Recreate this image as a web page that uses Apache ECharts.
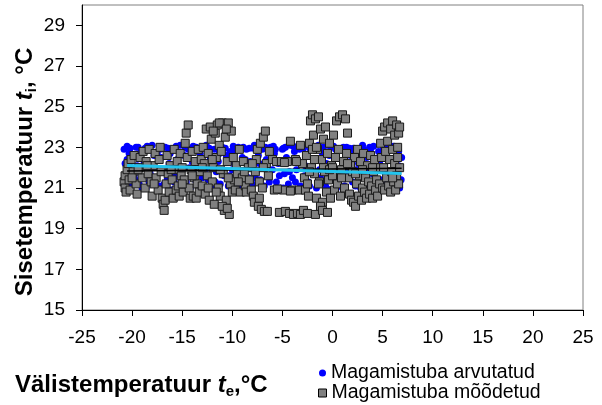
<!DOCTYPE html>
<html>
<head>
<meta charset="utf-8">
<script src="https://cdn.jsdelivr.net/npm/echarts@6/dist/echarts.min.js"></script>
<style>
  html, body { margin: 0; padding: 0; background: #fff; }
  #chart { width: 602px; height: 405px; }
</style>
</head>
<body>
<div id="chart"></div>
<script>
// Outdoor temperature (x) vs indoor bedroom temperature (y)
const xTicks = [-25, -20, -15, -10, -5, 0, 5, 10, 15, 20, 25];
const yTicks = [15, 17, 19, 21, 23, 25, 27, 29];

// Computed bedroom temperatures [outdoor, indoor]
const computed = [
  [-20.8,22.9],[-20.6,21.3],[-20.5,22.4],[-20.4,21.8],[-20.2,22.95],[-20.1,21.1],[-19.9,22.6],[-19.8,21.6],[-19.6,23.0],[-19.5,22.1],
  [-19.3,21.2],[-19.1,22.8],[-18.9,21.5],[-18.8,22.3],[-18.6,21.0],[-18.4,22.9],[-18.2,21.7],[-18.0,23.1],[-17.9,22.0],[-17.7,21.3],
  [-17.5,22.7],[-17.3,21.1],[-17.1,22.5],[-16.9,21.8],[-16.7,23.0],[-16.5,21.4],[-16.3,22.2],[-16.1,20.9],[-15.9,22.9],[-15.7,21.6],
  [-15.5,22.4],[-15.4,21.1],[-15.2,23.1],[-15.0,21.9],[-14.8,22.6],[-14.6,21.3],[-14.4,22.9],[-14.2,21.0],[-14.0,22.3],[-13.8,21.7],
  [-13.6,23.0],[-13.4,21.2],[-13.2,22.7],[-13.0,21.5],[-12.8,22.1],[-12.6,23.1],[-12.4,21.4],[-12.2,22.5],[-12.0,21.0],[-11.8,22.9],
  [-11.6,21.8],[-11.4,22.3],[-11.2,21.2],[-11.0,23.0],[-10.8,21.6],[-10.6,22.6],[-10.4,21.1],[-10.2,22.8],[-10.0,21.9],[-9.8,22.2],
  [-9.6,21.3],[-9.4,23.0],[-9.2,21.7],[-9.0,22.5],[-8.8,21.0],[-8.6,22.9],[-8.4,21.5],[-8.2,22.3],[-8.0,21.2],[-7.8,23.1],
  [-7.6,21.8],[-7.4,22.6],[-7.2,21.4],[-7.0,22.9],[-6.8,21.1],[-6.6,22.4],[-6.4,21.6],[-6.2,23.0],[-6.0,21.9],[-5.8,22.7],
  [-5.6,21.3],[-5.4,22.2],[-5.2,21.0],[-5.0,22.9],[-4.8,21.7],[-4.6,22.5],[-4.4,21.2],[-4.2,23.1],[-4.0,21.5],[-3.8,22.8],
  [-3.6,21.9],[-3.4,22.3],[-3.2,21.1],[-3.0,23.0],[-2.8,21.6],[-2.6,22.6],[-2.4,21.3],[-2.2,22.9],[-2.0,21.8],[-1.8,22.4],
  [-1.6,21.0],[-1.4,23.1],[-1.2,21.5],[-1.0,22.7],[-0.8,21.2],[-0.6,22.2],[-0.4,21.7],[-0.2,23.0],[0.0,21.4],[0.2,22.5],
  [0.4,21.0],[0.6,22.9],[0.8,21.8],[1.0,22.3],[1.2,21.1],[1.4,23.0],[1.6,21.6],[1.8,22.6],[2.0,21.3],[2.2,22.8],
  [2.4,21.9],[2.6,22.2],[2.8,21.0],[3.0,23.1],[3.2,21.5],[3.4,22.5],[3.6,21.2],[3.8,22.9],[4.0,21.7],[4.2,22.3],
  [4.4,21.0],[4.6,22.8],[4.8,21.4],[5.0,22.6],[5.2,21.8],[5.4,23.0],[5.6,21.1],[5.8,22.4],[6.0,21.6],[6.2,22.9],
  [6.4,21.3],[6.6,22.1],[6.7,21.0],[6.9,22.5],[6.85,21.4],
  [-20.7,22.2],[-20.3,22.7],[-19.7,21.4],[-19.2,22.5],[-18.7,22.95],[-18.3,21.3],[-17.8,22.6],[-17.2,22.9],[-16.8,21.2],[-16.2,22.7],
  [-15.8,21.3],[-15.3,22.1],[-14.7,23.0],[-14.3,22.0],[-13.7,21.4],[-13.3,22.9],[-12.7,21.9],[-12.3,22.95],[-11.7,21.3],[-11.3,22.7],
  [-10.7,22.95],[-10.3,21.6],[-9.7,22.8],[-9.3,21.2],[-8.7,22.4],[-8.3,22.95],[-7.7,21.5],[-7.3,22.2],[-6.7,23.0],[-6.3,21.3],
  [-5.7,22.9],[-5.3,21.6],[-4.7,23.0],[-4.3,21.8],[-3.7,21.3],[-3.3,22.9],[-2.7,22.1],[-2.3,21.1],[-1.7,22.9],[-1.3,21.9],
  [-0.7,21.1],[-0.3,22.6],[0.3,22.9],[0.7,21.5],[1.3,21.9],[1.7,22.95],[2.3,21.1],[2.7,22.6],[3.3,21.9],[3.7,23.0],
  [4.3,21.3],[4.7,22.2],[5.3,21.3],[5.7,23.05],[6.3,21.9],[6.6,22.8],
  [-20.5,23.05],[-19.4,23.0],[-18.5,23.05],[-16.4,22.95],[-15.6,23.05],[-13.9,23.05],[-12.9,23.0],[-9.9,23.05],[-8.9,23.0],[-7.9,22.95],
  [-5.9,23.05],[-4.9,22.95],[-3.9,23.05],[-2.9,22.95],[-0.9,23.0],[0.1,23.05],[1.1,23.0],[2.1,22.95],[3.1,22.9],[4.1,23.05],
  [5.1,22.95],[6.1,23.05],[-19.0,21.0],[-14.9,21.0],[-9.0,21.1],[-4.9,21.0],[-0.5,20.95],[3.9,21.1]
];

// Measured bedroom temperatures [outdoor, indoor]
const measured = [
  [-20.8,21.3],[-20.7,21.0],[-20.6,20.8],[-20.7,21.6],[-20.5,21.9],[-20.4,22.2],[-20.3,21.4],[-20.2,20.9],[-20.1,22.4],[-19.9,21.8],
  [-19.8,22.6],[-19.6,21.2],[-19.5,20.7],[-19.3,22.0],[-19.2,22.5],[-19.0,21.5],[-18.9,22.8],[-18.7,21.0],[-18.6,22.3],[-18.4,21.7],
  [-18.3,22.9],[-18.1,21.3],[-18.0,20.6],[-17.9,22.1],[-17.7,22.7],[-17.6,21.5],[-17.4,20.9],[-17.3,22.4],[-17.2,23.0],[-17.1,21.8],
  [-17.0,20.5],[-16.9,20.2],[-16.8,19.9],[-16.7,20.4],[-16.6,21.2],[-16.5,22.6],[-16.4,21.7],[-16.3,20.8],[-16.2,22.1],[-16.0,21.4],
  [-15.9,20.5],[-15.8,22.9],[-15.7,21.9],[-15.6,20.9],[-15.5,22.3],[-15.4,21.1],[-15.3,20.6],[-15.2,22.7],[-15.1,21.6],
  [-15.0,22.0],[-14.9,20.8],[-14.8,21.4],[-14.7,23.2],[-14.6,23.7],[-14.4,24.1],[-14.5,22.5],[-14.3,21.0],[-14.2,20.5],[-14.1,21.9],
  [-14.0,22.8],[-13.9,20.6],[-13.8,21.5],[-13.7,22.3],[-13.6,20.5],[-13.5,21.2],[-13.4,22.9],[-13.3,20.8],[-13.2,21.8],[-13.1,22.4],
  [-13.0,21.1],[-12.9,23.0],[-12.8,22.2],[-12.7,20.7],[-12.6,23.9],[-12.5,21.6],[-12.4,22.7],[-12.3,20.4],[-12.2,24.0],[-12.1,23.4],
  [-12.0,21.3],[-11.9,22.0],[-11.8,20.2],[-11.7,23.7],[-11.6,22.5],[-11.5,24.1],[-11.4,21.0],[-11.3,23.1],[-11.2,20.6],[-11.1,22.8],
  [-11.0,24.2],[-10.9,21.7],[-10.8,19.9],[-10.7,23.5],[-10.6,20.4],[-10.5,22.3],[-10.4,24.2],[-10.3,19.7],[-10.2,21.2],[-10.1,23.8],
  [-10.0,20.8],[-11.9,23.8],[-11.3,24.2],[-10.6,23.9],[-12.4,21.0],[-11.6,20.8],[-11.0,20.1],[-10.5,20.0],
  [-9.9,22.5],[-9.8,21.4],[-9.7,20.9],[-9.6,22.1],[-9.5,21.7],[-9.3,22.9],[-9.2,20.8],[-9.0,21.5],[-8.9,22.3],[-8.7,21.1],
  [-8.6,20.8],[-8.4,22.0],[-8.3,21.4],[-8.1,20.9],
  [-7.9,20.6],[-7.8,20.3],[-7.7,21.8],[-7.6,22.4],[-7.5,22.9],[-7.4,20.1],[-7.3,21.3],[-7.2,23.2],[-7.1,19.95],[-7.0,21.0],
  [-6.9,23.5],[-6.8,19.85],[-6.7,23.8],[-6.6,22.2],[-6.5,19.85],[-6.4,21.6],[-6.9,22.0],[-7.3,20.5],[-6.3,22.8],
  [-6.0,22.4],[-5.8,20.9],[-5.6,22.3],[-5.3,19.8],[-5.1,22.3],[-4.9,20.9],[-4.7,19.85],[-4.5,22.3],[-4.3,19.75],[-4.0,20.9],
  [-3.9,19.7],[-3.7,22.4],[-3.5,19.75],[-3.3,20.9],[-3.2,19.7],[-3.0,22.2],[-4.2,23.3],[-3.2,23.1],
  [-2.8,21.5],[-2.7,20.9],[-2.6,22.6],[-2.5,21.2],[-2.4,20.6],[-2.3,23.2],[-2.2,24.3],[-2.1,22.0],[-2.0,24.6],[-1.9,23.6],
  [-1.8,21.7],[-1.7,24.4],[-1.6,20.5],[-1.5,22.9],[-1.4,24.5],[-1.3,21.3],[-1.2,23.9],[-1.1,22.4],[-1.0,20.3],[-0.9,23.4],
  [-0.8,21.8],[-0.7,24.0],[-0.6,20.8],[-0.5,22.7],[-0.4,21.4],[-0.3,23.2],[-0.2,20.5],[-0.1,22.1],[0.0,21.6],[0.1,23.6],
  [0.2,20.9],[0.3,22.5],[0.4,24.3],[0.5,21.2],[0.6,22.9],[0.7,24.5],[0.8,20.6],[0.9,21.9],[1.0,24.6],[1.1,22.3],
  [1.2,21.0],[1.3,24.4],[1.4,22.7],[1.5,23.7],[1.6,21.5],[1.7,20.7],[1.8,22.1],[1.9,20.4],
  [-2.9,19.9],[-2.5,19.75],[-1.7,19.7],[-1.2,20.1],[-1.0,19.9],[-0.5,19.8],[-2.0,22.9],[-1.6,23.0],[-0.9,22.0],[-0.3,21.9],[-1.8,22.4],
  [2.0,21.8],[2.1,20.3],[2.2,22.5],[2.3,20.1],[2.4,21.2],[2.5,22.9],[2.6,20.6],[2.7,21.6],[2.8,22.3],[2.9,20.4],
  [3.0,21.0],[3.1,22.7],[3.2,20.8],[3.3,21.5],[3.4,20.5],[3.5,22.1],[3.6,21.3],[3.7,20.7],[3.8,22.6],[3.9,21.1],
  [4.0,20.5],[4.1,21.8],[4.2,22.4],[4.3,20.9],[4.4,21.4],[4.5,20.6],[4.6,22.0],[4.7,21.2],
  [4.8,23.2],[4.9,22.5],[5.0,21.0],[5.0,23.8],[5.1,22.0],[5.2,24.0],[5.2,20.9],[5.3,22.8],[5.4,21.5],[5.5,24.2],
  [5.5,23.3],[5.6,21.1],[5.7,22.4],[5.8,23.9],[5.8,20.8],[5.9,21.8],[6.0,24.3],[6.0,22.9],[6.1,21.3],[6.2,23.6],
  [6.2,22.2],[6.3,20.9],[6.4,24.1],[6.4,21.6],[6.5,23.0],[6.5,22.5],[6.6,21.2],[6.6,23.7],[6.7,24.0],[6.7,22.0],
  [-20.0,21.5],[-19.4,21.9],[-18.5,22.1],[-17.8,21.2],[-16.1,21.9],[-15.0,21.2],[-14.0,21.6],[-13.0,22.0],[-12.0,22.4],[-11.2,21.9],
  [-10.4,21.5],[-9.4,21.3],[-8.8,21.8],[-8.0,22.2],[-5.5,20.95],[-4.8,22.25],[-4.2,20.85],[-3.6,22.3],[-2.3,21.8],[-1.4,21.2],
  [0.0,22.0],[0.9,21.5],[1.5,22.2],[2.3,21.7],[3.0,21.9],[4.0,22.0],[6.0,21.5]
];

// Linear trend lines, endpoints [outdoor, indoor]
const trendComputed = [[-20.5, 22.11], [6.9, 21.71]];
const trendMeasured = [[-20.5, 21.83], [6.9, 21.97]];

const chart = echarts.init(document.getElementById('chart'), null, { renderer: 'canvas' });
const FONT = 'Liberation Sans, Arial, sans-serif';

const titleRich = {
  b: { fontFamily: FONT, fontSize: 24, fontWeight: 'bold', color: '#000', lineHeight: 28, verticalAlign: 'middle' },
  i: { fontFamily: FONT, fontSize: 24, fontWeight: 'bold', fontStyle: 'italic', color: '#000', lineHeight: 28, verticalAlign: 'middle' },
  s: { fontFamily: FONT, fontSize: 15, fontWeight: 'bold', color: '#000', lineHeight: 12, verticalAlign: 'bottom' }
};

const legendText = { fontFamily: FONT, fontSize: 19.5, color: '#000' };

chart.setOption({
  animation: false,
  backgroundColor: '#fff',
  textStyle: { fontFamily: FONT },
  grid: {
    left: 82, right: 19, top: 5, bottom: 95,
    show: true, borderColor: '#808080', borderWidth: 1, backgroundColor: '#fff'
  },
  graphic: [
    {
      type: 'text', left: 15, top: 373,
      style: { text: '{b|Välistemperatuur }{i|t}{s|e}{b|,°C}', rich: titleRich }
    },
    {
      type: 'text', x: 25, y: 172, rotation: Math.PI / 2,
      style: {
        text: '{b|Sisetemperatuur }{i|t}{s|i}{b|, °C}', rich: titleRich,
        align: 'center', verticalAlign: 'middle'
      }
    }
  ],
  legend: [
    {
      left: 319, top: 363, padding: 0, itemWidth: 7, itemHeight: 7, itemGap: 0,
      textStyle: legendText,
      data: [{ name: 'Magamistuba arvutatud', icon: 'circle', itemStyle: { color: '#0000FF', borderWidth: 0 } }]
    },
    {
      left: 318, top: 383, padding: 0, itemWidth: 8, itemHeight: 8, itemGap: 0,
      textStyle: legendText,
      data: [{ name: 'Magamistuba mõõdetud', icon: 'rect', itemStyle: { color: '#808080', borderColor: '#000', borderWidth: 1 } }]
    }
  ],
  xAxis: {
    type: 'value', min: -25, max: 25, interval: 5,
    axisLine: { show: true, onZero: false, lineStyle: { color: '#000', width: 1 } },
    axisTick: { show: true, inside: false, length: 6, lineStyle: { color: '#000' } },
    axisLabel: { fontFamily: FONT, fontSize: 19, color: '#000', margin: 18, showMinLabel: true, showMaxLabel: true },
    splitLine: { show: false }
  },
  yAxis: {
    type: 'value', min: 15, max: 30, interval: 1,
    axisLine: { show: true, onZero: false, lineStyle: { color: '#000', width: 1 } },
    axisTick: { show: true, inside: false, length: 6, lineStyle: { color: '#000' }, customValues: yTicks },
    axisLabel: { fontFamily: FONT, fontSize: 19, color: '#000', margin: 17, customValues: yTicks },
    splitLine: { show: false }
  },
  series: [
    {
      name: 'Magamistuba arvutatud', type: 'scatter', data: computed,
      symbol: 'circle', symbolSize: 7, z: 2,
      itemStyle: { color: '#0000FF', opacity: 1 }
    },
    {
      name: 'Magamistuba mõõdetud', type: 'scatter', data: measured,
      symbol: 'rect', symbolSize: 8, z: 3,
      itemStyle: { color: '#808080', borderColor: '#1a1a1a', borderWidth: 1, opacity: 1 }
    },
    {
      name: 'trend-measured', type: 'line', data: trendMeasured,
      symbol: 'none', z: 4, silent: true,
      lineStyle: { color: '#000', width: 1.5 }
    },
    {
      name: 'trend-computed', type: 'line', data: trendComputed,
      symbol: 'none', z: 5, silent: true,
      lineStyle: { color: '#22C4EE', width: 3 }
    }
  ]
});
</script>
</body>
</html>
